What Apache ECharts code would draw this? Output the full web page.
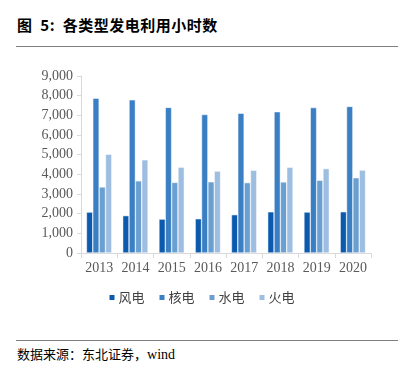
<!DOCTYPE html>
<html><head><meta charset="utf-8">
<script src="https://cdn.jsdelivr.net/npm/echarts@6/dist/echarts.min.js"></script>
<style>
html,body{margin:0;padding:0;background:#fff;}
#wrap{position:relative;width:402px;height:372px;overflow:hidden;}
#title{position:absolute;left:17px;top:14px;font-family:"Noto Sans CJK SC";font-weight:bold;font-size:15px;color:#000;letter-spacing:0.5px;}
#line1{position:absolute;left:16px;top:46px;width:382px;height:0;border-top:1px solid #7f7f7f;}
#line2{position:absolute;left:16px;top:340px;width:382px;height:0;border-top:1px solid #7f7f7f;}
#src{position:absolute;left:17px;top:344px;font-family:"Noto Sans CJK SC","Liberation Serif";font-size:13px;color:#000;}
#chart{position:absolute;left:0;top:50px;width:402px;height:285px;}
</style></head>
<body><div id="wrap">
<div id="title">图&nbsp; 5:&nbsp; 各类型发电利用小时数</div>
<div id="line1"></div>
<div id="chart"></div>
<div id="line2"></div>
<div id="src">数据来源：东北证券，<span style="font-family:'Liberation Serif';font-size:14px">wind</span></div>
</div>
<script>
const categories = ['2013','2014','2015','2016','2017','2018','2019','2020'];
const seriesNames = ['风电','核电','水电','火电'];
const wind    = [2080, 1900, 1724, 1742, 1948, 2095, 2082, 2097];
const nuclear = [7874, 7787, 7403, 7042, 7108, 7184, 7394, 7453];
const hydro   = [3359, 3669, 3590, 3621, 3579, 3613, 3697, 3827];
const thermal = [5021, 4739, 4364, 4165, 4209, 4361, 4293, 4216];
const colors = ['#0b5aad','#3a7ec3','#6a9fd1','#9dbde1'];
const values = [wind, nuclear, hydro, thermal];

const chart = echarts.init(document.getElementById('chart'), null, {renderer:'canvas'});
chart.setOption({
  animation:false,
  color: colors,
  grid:{left:81, right:31, top:26, bottom:82},
  legend:{
    bottom:26, left:'center',
    itemWidth:7, itemHeight:7, itemGap:13,
    icon:'rect',
    textStyle:{fontFamily:'Noto Sans CJK SC', fontSize:13, color:'#404040', padding:[0,0,0,-2]},
    data: seriesNames
  },
  xAxis:{
    type:'category', data:categories,
    axisLine:{show:true, lineStyle:{color:'#d9d9d9'}},
    axisTick:{show:true, length:5, lineStyle:{color:'#d9d9d9'}},
    axisLabel:{interval:0, fontFamily:'Liberation Serif', fontSize:14, color:'#595959', margin:8}
  },
  yAxis:{
    type:'value', min:0, max:9000, interval:1000,
    axisLine:{show:true, lineStyle:{color:'#d9d9d9'}},
    axisTick:{show:true, length:4, lineStyle:{color:'#d9d9d9'}},
    splitLine:{show:false},
    axisLabel:{fontFamily:'Liberation Serif', fontSize:14, color:'#595959', margin:8,
      formatter: v => v.toLocaleString('en-US')}
  },
  series: seriesNames.map((n,i)=>({
    name:n, type:'bar', data:values[i],
    barGap:'0%', barCategoryGap:'30%',
    itemStyle:{color:colors[i], borderColor:'#fff', borderWidth:0.5}
  }))
});
</script>
</body></html>
